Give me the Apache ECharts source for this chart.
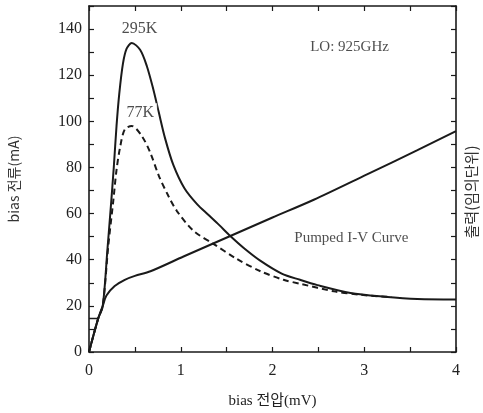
<!DOCTYPE html>
<html>
<head>
<meta charset="utf-8">
<script src="https://cdn.jsdelivr.net/npm/echarts@6/dist/echarts.min.js"></script>
<style>
  html, body { margin: 0; padding: 0; background: #fff; }
  #chart { width: 483px; height: 413px; }
</style>
</head>
<body>
<div id="chart"></div>
<script>
// bias voltage (mV) / current (mA) pairs
var curve295K = [
  [0, 0], [0.1, 14.5], [0.15, 20], [0.2, 44], [0.24, 64], [0.27, 80], [0.30, 98],
  [0.33, 112], [0.37, 125], [0.41, 131.5], [0.466, 134], [0.557, 131], [0.63, 124],
  [0.70, 114], [0.76, 104], [0.83, 92.5], [0.92, 81], [1.04, 71], [1.18, 64],
  [1.30, 59.5], [1.42, 55], [1.54, 50.3], [1.69, 45], [1.87, 39.5], [2.10, 34],
  [2.30, 31.3], [2.49, 29], [2.85, 25.6], [3.22, 24], [3.58, 23], [4.0, 22.8]
];
var curve77K = [
  [0, 0], [0.1, 14.5], [0.15, 20], [0.21, 46], [0.266, 66], [0.30, 79], [0.34, 89],
  [0.39, 96.5], [0.466, 98], [0.576, 93.6], [0.667, 86.5], [0.76, 76.5], [0.867, 67.5],
  [0.96, 61], [1.14, 52.5], [1.36, 46.8], [1.60, 40.6], [1.87, 35], [2.12, 31.3],
  [2.31, 29.5], [2.67, 26.3], [2.96, 24.8], [3.3, 23.8]
];
var pumped = [
  [0, 0], [0.1, 14.5], [0.15, 20], [0.19, 24.5], [0.28, 28.6], [0.39, 31.3], [0.5, 33],
  [0.67, 35], [1.03, 41.4], [1.54, 50.3], [2.0, 58.3], [2.45, 66], [3.03, 77],
  [3.58, 87.5], [4.0, 95.8]
];
var stub = [[0, 14.5], [0.1, 14.5]];
var notes = [
  [0.55, 140, '295K'],
  [0.56, 103.5, '77K'],
  [2.84, 132.4, 'LO: 925GHz'],
  [2.86, 49.3, 'Pumped I-V Curve']
];

var chart = echarts.init(document.getElementById('chart'));
var ink = '#1a1a1a';
var serif = '"Liberation Serif", "Noto Sans CJK KR", serif';
var sans = '"Noto Sans CJK KR", "Noto Sans", sans-serif';

function axisBase(show) {
  return {
    axisLine: {show: true, onZero: false, lineStyle: {color: ink, width: 1.6}},
    axisTick: {show: true, inside: true, length: 5, lineStyle: {color: ink, width: 1.2}},
    splitLine: {show: false},
    axisLabel: {show: show}
  };
}

var xBottom = Object.assign(axisBase(true), {
  type: 'value', position: 'bottom', min: 0, max: 4, interval: 0.5,
  name: 'bias 전압(mV)', nameLocation: 'middle', nameGap: 42,
  nameTextStyle: {fontFamily: serif, fontSize: 15, color: '#222'}
});
xBottom.axisLabel = {
  show: true, margin: 11, fontFamily: serif, fontSize: 16, color: '#222',
  formatter: function (v) { return v % 1 === 0 ? String(v) : ''; }
};
var xTop = Object.assign(axisBase(false), {
  type: 'value', position: 'top', min: 0, max: 4, interval: 0.5
});
var yLeft = Object.assign(axisBase(true), {
  type: 'value', position: 'left', min: 0, max: 150, interval: 10,
  name: 'bias 전류(mA)', nameLocation: 'middle', nameGap: 68,
  nameTextStyle: {fontFamily: sans, fontSize: 14, color: '#333'}
});
yLeft.axisLabel = {
  show: true, margin: 7, fontFamily: serif, fontSize: 16, color: '#222',
  formatter: function (v) { return v % 20 === 0 ? String(v) : ''; }
};
var yRight = Object.assign(axisBase(false), {
  type: 'value', position: 'right', min: 0, max: 150, interval: 10,
  name: '출력(임의단위)', nameLocation: 'middle', nameGap: 8, nameRotate: 90,
  nameTextStyle: {fontFamily: sans, fontSize: 15, color: '#333', padding: [0, 26, 0, 0]}
});

function curve(name, data, dashed) {
  return {
    name: name, type: 'line', data: data, xAxisIndex: 0, yAxisIndex: 0,
    smooth: 0.3, symbol: 'none', silent: true,
    lineStyle: {color: ink, width: 2, type: dashed ? [6, 4] : 'solid'}
  };
}

chart.setOption({
  animation: false,
  grid: {left: 89, right: 27, top: 6, bottom: 61, outerBoundsMode: 'none'},
  xAxis: [xBottom, xTop],
  yAxis: [yLeft, yRight],
  series: [
    curve('295K', curve295K, false),
    curve('77K', curve77K, true),
    curve('Pumped I-V Curve', pumped, false),
    {
      type: 'line', data: stub, symbol: 'none', silent: true,
      lineStyle: {color: ink, width: 1.6}
    },
    {
      type: 'scatter', symbolSize: 0, silent: true, z: 5,
      data: notes.map(function (n) { return {value: [n[0], n[1]], name: n[2]}; }),
      label: {
        show: true, position: 'inside', formatter: '{b}',
        fontFamily: serif, fontSize: 15, color: '#222'
      },
      emphasis: {disabled: true}
    }
  ]
});

// the 77K tag sits on a white patch in the original, other tags don't
var opt = chart.getOption();
opt.series[4].data[1].label = {backgroundColor: '#fff', padding: [2, 3], fontSize: 16};
opt.series[4].data[0].label = {fontSize: 16};
chart.setOption({series: opt.series});
</script>
</body>
</html>
